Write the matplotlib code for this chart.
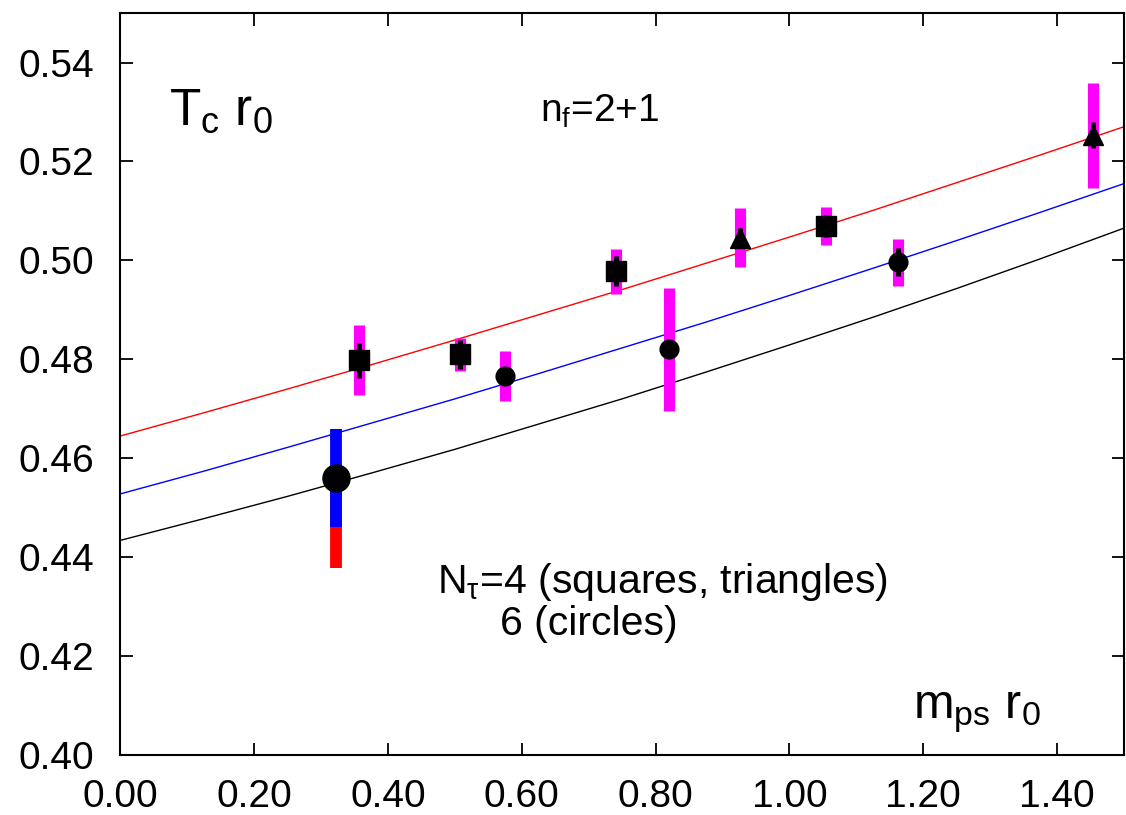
import matplotlib
matplotlib.use('Agg')
import matplotlib.pyplot as plt

plt.rcParams['font.family'] = ['Liberation Sans', 'DejaVu Sans']
plt.rcParams['mathtext.fontset'] = 'custom'
plt.rcParams['mathtext.rm'] = 'Liberation Sans'
plt.rcParams['mathtext.it'] = 'Liberation Sans'

# fit curves
curve_x = [0.0, 0.125, 0.25, 0.375, 0.5, 0.625, 0.75, 0.875,
           1.0, 1.125, 1.25, 1.375, 1.5]
curve_red = [0.4645, 0.4692, 0.4740, 0.4789, 0.4839, 0.4890, 0.4941, 0.4994,
             0.5047, 0.5101, 0.5157, 0.5213, 0.5270]
curve_blue = [0.4528, 0.4574, 0.4622, 0.4671, 0.4720, 0.4771, 0.4823, 0.4875,
              0.4929, 0.4984, 0.5040, 0.5097, 0.5155]
curve_black = [0.4434, 0.4478, 0.4523, 0.4570, 0.4618, 0.4669, 0.4720, 0.4774,
               0.4829, 0.4885, 0.4943, 0.5003, 0.5065]

# N_tau=4 squares
sq_x = [0.357, 0.508, 0.741, 1.055]
sq_y = [0.4798, 0.4810, 0.4978, 0.5069]
sq_stat = [0.0035, 0.0030, 0.0030, 0.0022]
sq_sys = [0.0071, 0.0034, 0.0045, 0.0038]

# N_tau=4 triangles
tri_x = [0.926, 1.454]
tri_y = [0.5046, 0.5253]
tri_stat = [0.0020, 0.0026]
tri_sys = [0.0060, 0.0106]

# N_tau=6 circles
ci_x = [0.575, 0.820, 1.163]
ci_y = [0.4766, 0.4820, 0.4996]
ci_stat = [0.0010, 0.0010, 0.0028]
ci_sys = [0.0050, 0.0124, 0.0048]

# extrapolated point
ex_x = [0.322]
ex_y = [0.456]
ex_err_blue = [0.0099]
ex_err_red_low = [0.0182]

W, H = 1126, 815
fig = plt.figure(figsize=(W / 100, H / 100), dpi=100)
ax = fig.add_axes([0.107, 0.0736, 0.891, 0.9104])

ax.plot(curve_x, curve_red, color='red', lw=1.0)
ax.plot(curve_x, curve_blue, color='blue', lw=1.0)
ax.plot(curve_x, curve_black, color='black', lw=1.0)

# systematic errors (magenta)
for xs, ys, es in [(sq_x, sq_y, sq_sys), (tri_x, tri_y, tri_sys), (ci_x, ci_y, ci_sys)]:
    ax.errorbar(xs, ys, yerr=es, fmt='none', ecolor='magenta', elinewidth=8, capsize=0)

# statistical errors (black)
for xs, ys, es in [(sq_x, sq_y, sq_stat), (tri_x, tri_y, tri_stat), (ci_x, ci_y, ci_stat)]:
    ax.errorbar(xs, ys, yerr=es, fmt='none', ecolor='black', elinewidth=3.6, capsize=0)

ax.plot(sq_x, sq_y, 's', color='black', ms=14.5)
ax.plot(tri_x, tri_y, '^', color='black', ms=15)
ax.plot(ci_x, ci_y, 'o', color='black', ms=13.5)

ax.errorbar(ex_x, ex_y, yerr=[ex_err_red_low, [0]], fmt='none', ecolor='red', elinewidth=8.5, capsize=0)
ax.errorbar(ex_x, ex_y, yerr=ex_err_blue, fmt='none', ecolor='blue', elinewidth=8.5, capsize=0)
ax.plot(ex_x, ex_y, 'o', color='black', ms=19.5)

ax.set_xlim(0, 1.5)
ax.set_ylim(0.40, 0.55)
xt = [0.0, 0.2, 0.4, 0.6, 0.8, 1.0, 1.2, 1.4]
yt = [0.40, 0.42, 0.44, 0.46, 0.48, 0.50, 0.52, 0.54]
ax.set_xticks(xt)
ax.set_xticklabels(['%.2f' % v for v in xt])
ax.set_yticks(yt)
ax.set_yticklabels(['%.2f' % v for v in yt])
ax.tick_params(direction='in', length=9, width=1.3, labelsize=28,
               top=True, right=True)
ax.tick_params(axis='x', pad=17)
ax.tick_params(axis='y', pad=19)
for s in ax.spines.values():
    s.set_linewidth(1.5)


def label(px, py, s, size):
    # pixel position of the text baseline, measured from the top left
    fig.text(px / W, 1 - py / H, s, fontsize=size, va='baseline')


label(169, 125, r'$\mathrm{T_c\ r_0}$', 37)
label(540, 122, r'$\mathrm{n_f}$=2+1', 28)
label(437, 593, r'$\mathrm{N_\tau}$=4 (squares, triangles)', 29.5)
label(500, 635, '6 (circles)', 29.5)
label(913, 718, r'$\mathrm{m_{ps}\ r_0}$', 35)

fig.savefig('out.png', dpi=100)
